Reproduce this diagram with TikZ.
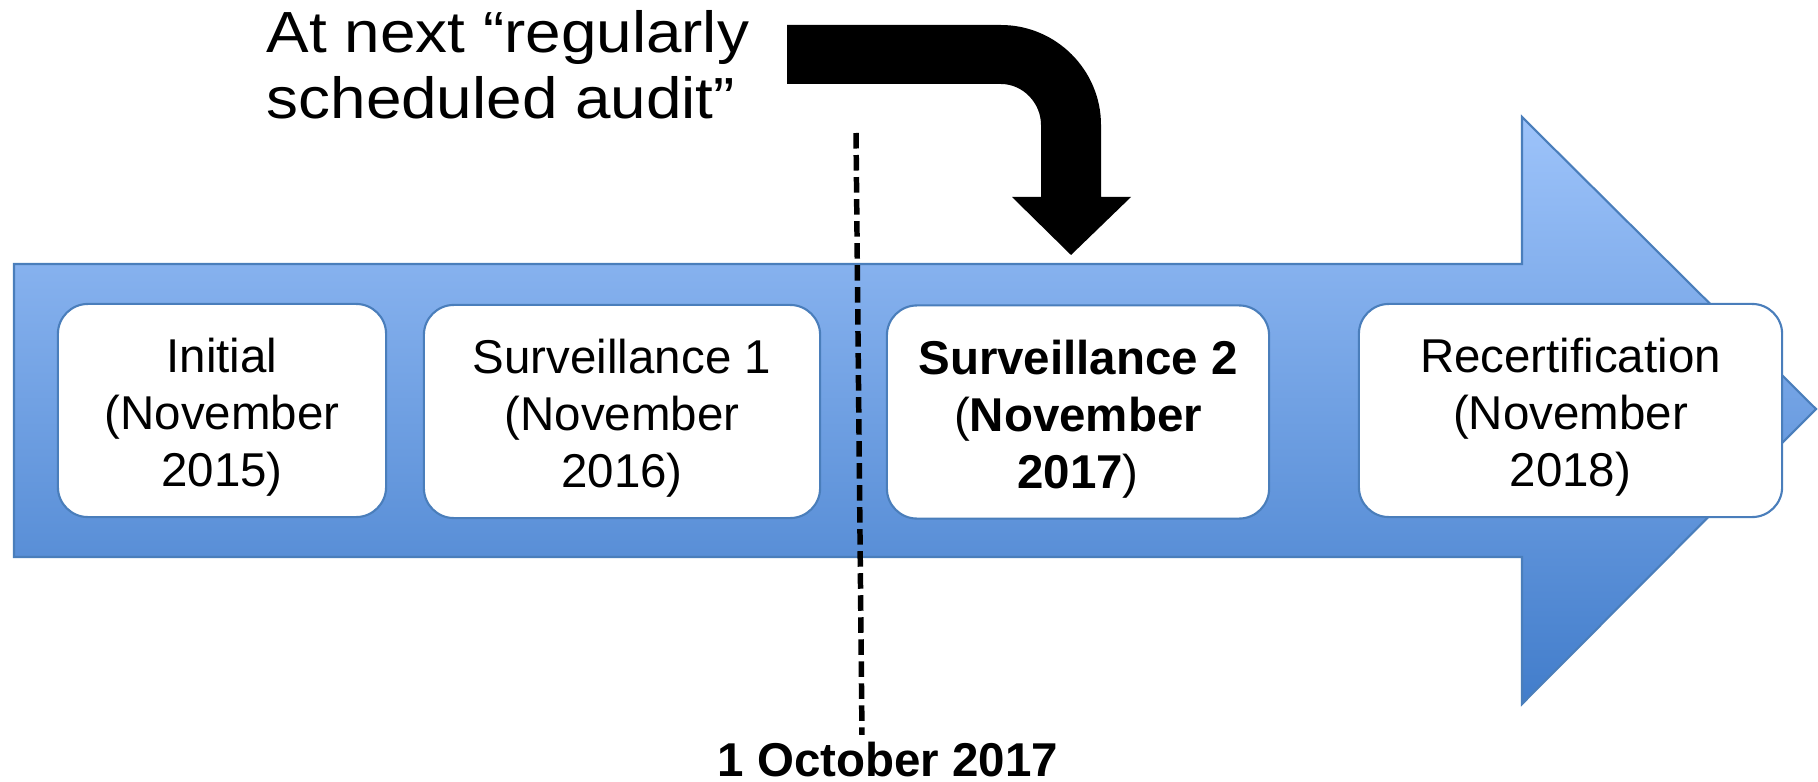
\documentclass[tikz,border=0pt]{standalone}
\usepackage{fontspec}
\setmainfont{Liberation Sans}
\newfontfamily\widefont[FakeStretch=1.1]{Liberation Sans}
\definecolor{bandtop}{RGB}{157,195,250}
\definecolor{bandbot}{RGB}{66,125,203}
\definecolor{bandline}{RGB}{74,126,187}
\tikzset{
  stagebox/.style={draw=bandline, line width=0.6pt, fill=white, rounded corners=0.3cm,
    inner sep=0pt, minimum height=2.13cm, align=center,
    font=\fontsize{13.5}{16.2}\selectfont},
}
\newcommand{\topgap}{\rule{0pt}{0.48cm}}

\begin{document}
\begin{tikzpicture}[x=0.01cm,y=-0.01cm]
  \useasboundingbox (0,0) rectangle (1818,782);
  \draw[bandline, line width=0.6pt, top color=bandtop, bottom color=bandbot]
    (14,264) -- (1522,264) -- (1522,117) -- (1816,409) -- (1522,704) -- (1522,557) -- (14,557) -- cycle;
  \node[stagebox, minimum width=3.28cm] (initial) at (222,410.5) {\topgap Initial\\(November\\2015)};
  \node[stagebox, minimum width=3.96cm] (surv1) at (622,411.5) {\topgap Surveillance 1\\(November\\2016)};
  \node[stagebox, minimum width=3.82cm] (surv2) at (1078,412) {\topgap\textbf{Surveillance 2}\\(\textbf{November}\\\textbf{2017})};
  \node[stagebox, minimum width=4.23cm] (recert) at (1570.5,410.5) {\topgap Recertification\\(November\\2018)};
  \fill (787,25) -- (1001,25) .. controls (1056,25) and (1101,70) .. (1101,125) -- (1101,197) -- (1131,197)
    -- (1071,255) -- (1012,197) -- (1041,197) -- (1041,125) .. controls (1041,103) and (1023,84) .. (1001,84)
    -- (787,84) -- cycle;
  \node[anchor=north west, inner sep=0pt, align=left, font=\widefont\fontsize{16.5}{18.8}\selectfont]
    (note) at (266,10) {At next “regularly\\scheduled audit”};
  \node[anchor=base, inner sep=0pt, font=\bfseries\fontsize{13.5}{16.2}\selectfont] (date) at (888,776) {1 October 2017};
  \coordinate (cut) at (856,133);
  \draw[line width=1.56pt, dash pattern=on 0.155cm off 0.065cm] (cut) -- ([xshift=-0.26cm,yshift=0.06cm]date.north); % date limite
\end{tikzpicture}
\end{document}
